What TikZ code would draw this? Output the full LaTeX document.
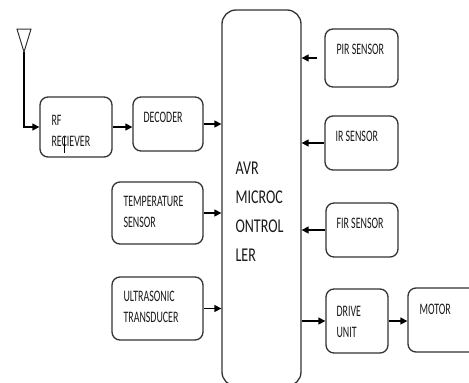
\documentclass[tikz,border=0pt]{standalone}
\usepackage{fontspec}
\setmainfont{Carlito}[FakeStretch=0.62]
\newfontfamily\avrfont{Carlito}[FakeStretch=0.72]
\usetikzlibrary{arrows.meta, positioning}

\begin{document}
\begin{tikzpicture}[
    x=1pt, y=-1pt,
    blk/.style={draw=black!80, line width=1.3pt, rounded corners=8pt, inner sep=0pt},
    txt/.style={anchor=north west, inner sep=0pt, align=left, text=black!90,
                font=\fontsize{16}{21}\selectfont},
    arr/.style={draw, -{Triangle[length=7pt, width=7pt]}, line width=1.4pt}
]
\useasboundingbox (0,0) rectangle (469,383);
\clip (0,0) rectangle (469,383);
% blocks
\node[blk, minimum width=72pt, minimum height=60pt] (rf) at (76,127) {};
\node[blk, minimum width=70pt, minimum height=54pt] (dec) at (168,124) {};
\node[blk, minimum width=91pt, minimum height=62pt] (temp) at (157.5,213) {};
\node[blk, minimum width=91pt, minimum height=63pt] (ultra) at (157.5,308.5) {};
\node[blk, rounded corners=14pt, minimum width=79pt, minimum height=376pt] (avr) at (261.5,198) {};
\node[blk, minimum width=73pt, minimum height=58pt] (pir) at (361.5,58) {};
\node[blk, minimum width=73pt, minimum height=54pt] (ir) at (361.5,143) {};
\node[blk, minimum width=72pt, minimum height=54pt] (fir) at (362,230) {};
\node[blk, minimum width=62pt, minimum height=64pt] (drive) at (357,321) {};
\node[blk, minimum width=72pt, minimum height=64pt] (motor) at (444,320) {};
% labels
\node[txt] (rftxt) at ([shift={(12,19)}]rf.north west) {RF\\RECIEVER};
\node[txt] (dectxt) at ([shift={(11,16)}]dec.north west) {DECODER};
\node[txt] (temptxt) at ([shift={(12,15)}]temp.north west) {TEMPERATURE\\SENSOR};
\node[txt] (ultratxt) at ([shift={(12,15)}]ultra.north west) {ULTRASONIC\\TRANSDUCER};
\node[txt] (pirtxt) at ([shift={(12,16)}]pir.north west) {PIR SENSOR};
\node[txt] (irtxt) at ([shift={(11,16)}]ir.north west) {IR SENSOR};
\node[txt] (firtxt) at ([shift={(11,16)}]fir.north west) {FIR SENSOR};
\node[txt] (drivetxt) at ([shift={(11,18)}]drive.north west) {DRIVE\\UNIT};
\node[txt] (motortxt) at ([shift={(12,17)}]motor.north west) {MOTOR};
\node[txt, font=\fontsize{19.5}{29.3}\avrfont] (avrtxt) at ([shift={(14,152)}]avr.north west)
    {AVR\\MICROC\\ONTROL\\LER};
% text cursor in the receiver label
\draw[line width=0.9pt] (64,137) -- (64,153);
% antenna
\draw[line width=1pt, black!80] (17,29) -- (31,29) -- (24,52) -- cycle;
\coordinate (ant) at (24,52);
\coordinate (pirtail) at ([xshift=-7pt]pir.west);
% connectors
\draw[arr] (ant) |- (rf.west);
\draw[arr] (rf.east) -- (rf.east -| dec.west);
\draw[arr] (dec.east) -- (dec.east -| avr.west);
\draw[arr] (temp.east) -- (temp.east -| avr.west);
\draw[arr] (ultra.east) -- (ultra.east -| avr.west);
\draw[arr] (pirtail) -- (pirtail -| avr.east);
\draw[arr] (ir.west) -- (ir.west -| avr.east);
\draw[arr] (fir.west) -- (fir.west -| avr.east);
\draw[arr] (drive.west -| avr.east) -- (drive.west);
\draw[arr] (drive.east) -- (drive.east -| motor.west);
\end{tikzpicture}
\end{document}
